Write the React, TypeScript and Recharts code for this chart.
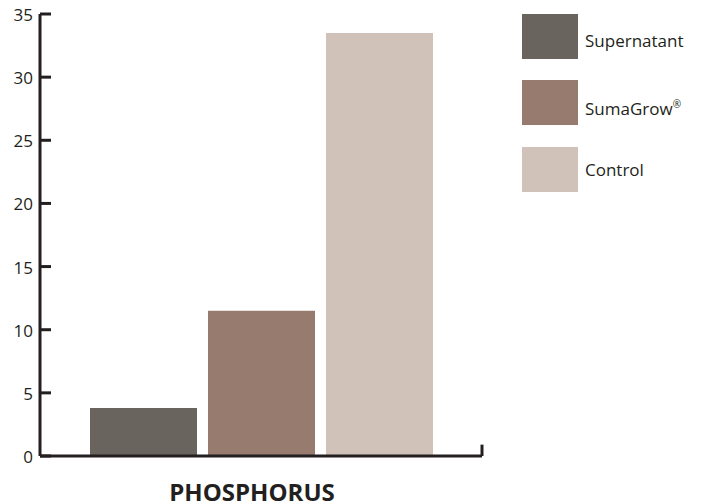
import { BarChart, Bar, XAxis, YAxis, ReferenceLine } from "recharts";

const categories = ["PHOSPHORUS"];
const seriesNames = ["Supernatant", "SumaGrow®", "Control"];
const seriesKeys = ["supernatant", "sumagrow", "control"];
const supernatantValues = [3.8];
const sumagrowValues = [11.5];
const controlValues = [33.5];
const yTicks = [0, 5, 10, 15, 20, 25, 30, 35];
const colors = ["#6a645f", "#977b6e", "#d0c2b8"];

const data = categories.map((name, i) => ({
  name,
  supernatant: supernatantValues[i],
  sumagrow: sumagrowValues[i],
  control: controlValues[i],
}));

const ink = "#231f20";
const font = "'Open Sans', sans-serif";

// y tick: small mark pointing into the plot, label on the left
const YTick = (props: any) => {
  const { x, y, payload } = props;
  return (
    <g>
      <line x1={x} y1={y} x2={x + 11} y2={y} stroke={ink} strokeWidth={3} />
      <text
        x={x - 7}
        y={y + 1}
        dy="0.355em"
        textAnchor="end"
        fontFamily={font}
        fontSize={17}
        fill={ink}
      >
        {payload.value}
      </text>
    </g>
  );
};

const XTick = (props: any) => {
  const { x, y, payload } = props;
  return (
    <text
      x={x - 9}
      y={y + 45}
      textAnchor="middle"
      fontFamily={font}
      fontSize={24}
      fontWeight={700}
      fill={ink}
    >
      {payload.value}
    </text>
  );
};

const legendTops = [14, 80, 147];
const textTops = [32, 96, 161];

export default function App() {
  return (
    <div style={{ position: "absolute", left: 0, top: 0, width: 701, height: 504, background: "#fff" }}>
      <BarChart
        width={701}
        height={504}
        data={data}
        margin={{ top: 14, right: 219, bottom: 0, left: 0 }}
        barSize={107}
        barGap={11}
      >
        <XAxis
          dataKey="name"
          axisLine={{ stroke: ink, strokeWidth: 3 }}
          tickLine={false}
          tickSize={0}
          tickMargin={0}
          height={48}
          tick={<XTick />}
        />
        <YAxis
          domain={[0, 35]}
          ticks={yTicks}
          width={40}
          axisLine={{ stroke: ink, strokeWidth: 3 }}
          tickLine={false}
          tickSize={0}
          tickMargin={0}
          tick={<YTick />}
          interval={0}
        />
        {seriesKeys.map((k, i) => (
          <Bar key={k} dataKey={k} name={seriesNames[i]} fill={colors[i]} isAnimationActive={false} />
        ))}
        <ReferenceLine
          segment={[
            { x: categories[0], y: 0 },
            { x: categories[0], y: 0.9 },
          ]}
          position="end"
          stroke={ink}
          strokeWidth={3}
          ifOverflow="visible"
        />
      </BarChart>
      {seriesNames.map((n, i) => (
        <div key={n}>
          <div
            style={{
              position: "absolute",
              left: 522,
              top: legendTops[i],
              width: 56,
              height: 45,
              background: colors[i],
            }}
          />
          <div
            style={{
              position: "absolute",
              left: 585,
              top: textTops[i],
              fontFamily: font,
              fontSize: 17,
              lineHeight: "17px",
              color: ink,
              whiteSpace: "nowrap",
            }}
          >
            {n.replace("®", "")}
            {n.includes("®") && <sup style={{ fontSize: 10 }}>®</sup>}
          </div>
        </div>
      ))}
    </div>
  );
}
